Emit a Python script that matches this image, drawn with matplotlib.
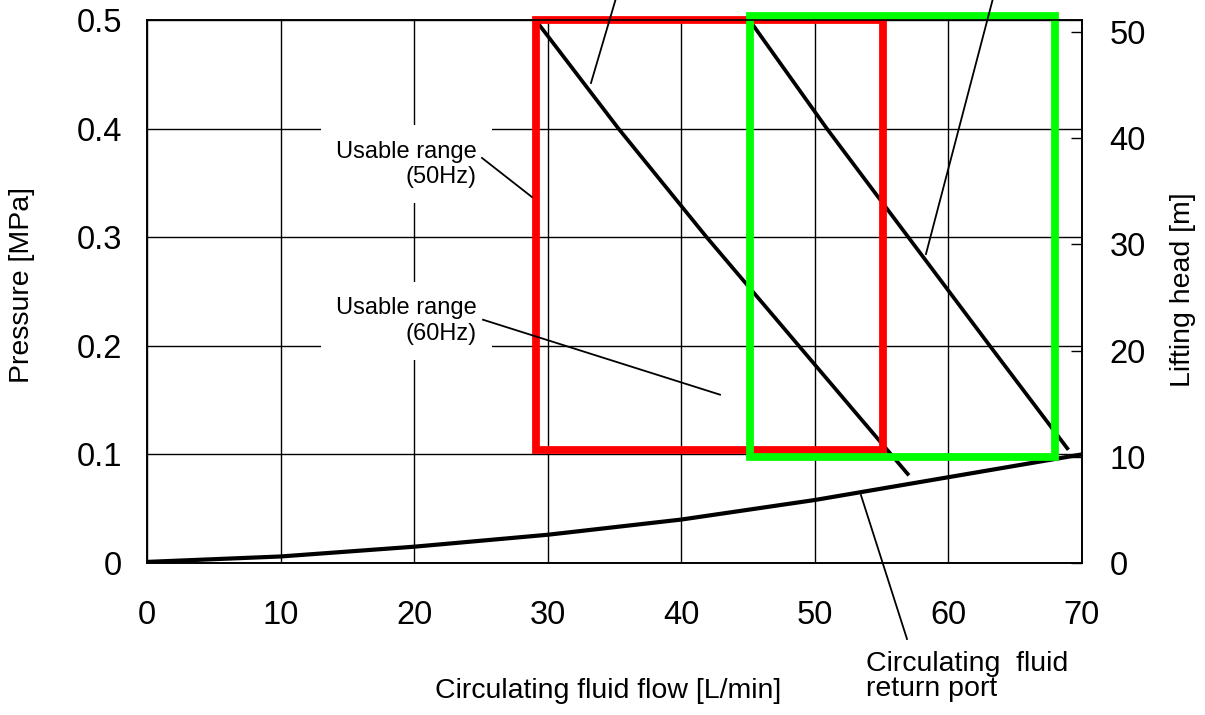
import matplotlib.pyplot as plt
from matplotlib.patches import Rectangle

plt.rcParams['font.family'] = ['Liberation Sans', 'DejaVu Sans']

# Pump curves (flow L/min vs pressure MPa)
flow_50 = [29.4, 35.3, 41.9, 48.8, 56.95]
pres_50 = [0.495, 0.400, 0.300, 0.200, 0.082]

flow_60 = [45.45, 50.9, 57.0, 63.1, 68.9]
pres_60 = [0.494, 0.400, 0.300, 0.200, 0.1056]

# Pressure loss at the circulating fluid return port
return_flow = [0, 10, 20, 30, 40, 50, 60, 70]
return_pres = [0.001, 0.006, 0.015, 0.026, 0.040, 0.058, 0.079, 0.100]

# Usable ranges: (flow min, flow max), (pressure min, pressure max)
range_50_flow = (29.1, 55.1)
range_50_pres = (0.104, 0.500)
range_60_flow = (45.15, 68.0)
range_60_pres = (0.098, 0.504)

x_ticks = [0, 10, 20, 30, 40, 50, 60, 70]
p_ticks = [0, 0.1, 0.2, 0.3, 0.4, 0.5]
p_tick_labels = ['0', '0.1', '0.2', '0.3', '0.4', '0.5']
head_ticks = [0, 10, 20, 30, 40, 50]

fig = plt.figure(figsize=(12.05, 7.15), dpi=100)
ax = fig.add_axes([0.122, 0.2126, 0.7759, 0.7594])

ax.set_xlim(0, 70)
ax.set_ylim(0, 0.5)
ax.set_xticks(x_ticks)
ax.set_yticks(p_ticks)
ax.set_yticklabels(p_tick_labels)
ax.tick_params(axis='x', length=0, pad=27, labelsize=23.5)
ax.tick_params(axis='y', length=0, pad=18, labelsize=23.5)
ax.grid(True, color='black', linewidth=1.0)
for s in ax.spines.values():
    s.set_linewidth(1.2)

# curves
ax.plot(flow_50, pres_50, color='black', linewidth=2.7, zorder=3)
ax.plot(flow_60, pres_60, color='black', linewidth=2.7, zorder=3)
ax.plot(return_flow, return_pres, color='black', linewidth=3.0, zorder=3)

# usable range boxes
red = Rectangle((range_50_flow[0], range_50_pres[0]),
                range_50_flow[1] - range_50_flow[0],
                range_50_pres[1] - range_50_pres[0],
                fill=False, edgecolor='#ff0000', linewidth=5.6,
                joinstyle='miter', clip_on=False, zorder=4)
green = Rectangle((range_60_flow[0], range_60_pres[0]),
                  range_60_flow[1] - range_60_flow[0],
                  range_60_pres[1] - range_60_pres[0],
                  fill=False, edgecolor='#00ff00', linewidth=5.6,
                  joinstyle='miter', clip_on=False, zorder=5)
ax.add_patch(red)
ax.add_patch(green)

# labels with leader lines
box = dict(facecolor='white', edgecolor='none', pad=11)
ax.text(24.7, 0.367, 'Usable range\n(50Hz)', ha='right', va='center',
        fontsize=17, multialignment='right', bbox=box, zorder=6)
ax.text(24.7, 0.223, 'Usable range\n(60Hz)', ha='right', va='center',
        fontsize=17, multialignment='right', bbox=box, zorder=6)

leader = dict(color='black', linewidth=1.3, clip_on=False, zorder=6)
ax.plot([25.08, 28.82], [0.373, 0.337], **leader)
ax.plot([25.16, 42.9], [0.224, 0.155], **leader)
ax.plot([33.24, 35.11], [0.442, 0.520], **leader)
ax.plot([58.32, 63.34], [0.2845, 0.520], **leader)
ax.plot([53.45, 56.9], [0.0626, -0.070], **leader)

ax.text(53.83, -0.1045, 'Circulating  fluid\nreturn port', ha='left', va='center',
        fontsize=20.5, linespacing=0.95, clip_on=False)

ax.set_xlabel('Circulating fluid flow [L/min]', fontsize=20.5)
ax.xaxis.set_label_coords(0.493, -0.212)
ax.set_ylabel('Pressure [MPa]', fontsize=20.5, va='center')
ax.yaxis.set_label_coords(-0.1337, 0.512)

# lifting head axis on the right
ax2 = ax.twinx()
ax2.set_ylim(0, 50 * 543 / 531)
ax2.set_yticks(head_ticks)
ax2.tick_params(axis='y', direction='in', length=8, width=1.0, pad=20, labelsize=23.5)
ax2.set_ylabel('Lifting head [m]', fontsize=20.5, va='center')
ax2.yaxis.set_label_coords(1.108, 0.503)
for s in ax2.spines.values():
    s.set_linewidth(1.2)

fig.savefig('out.png', dpi=100)
